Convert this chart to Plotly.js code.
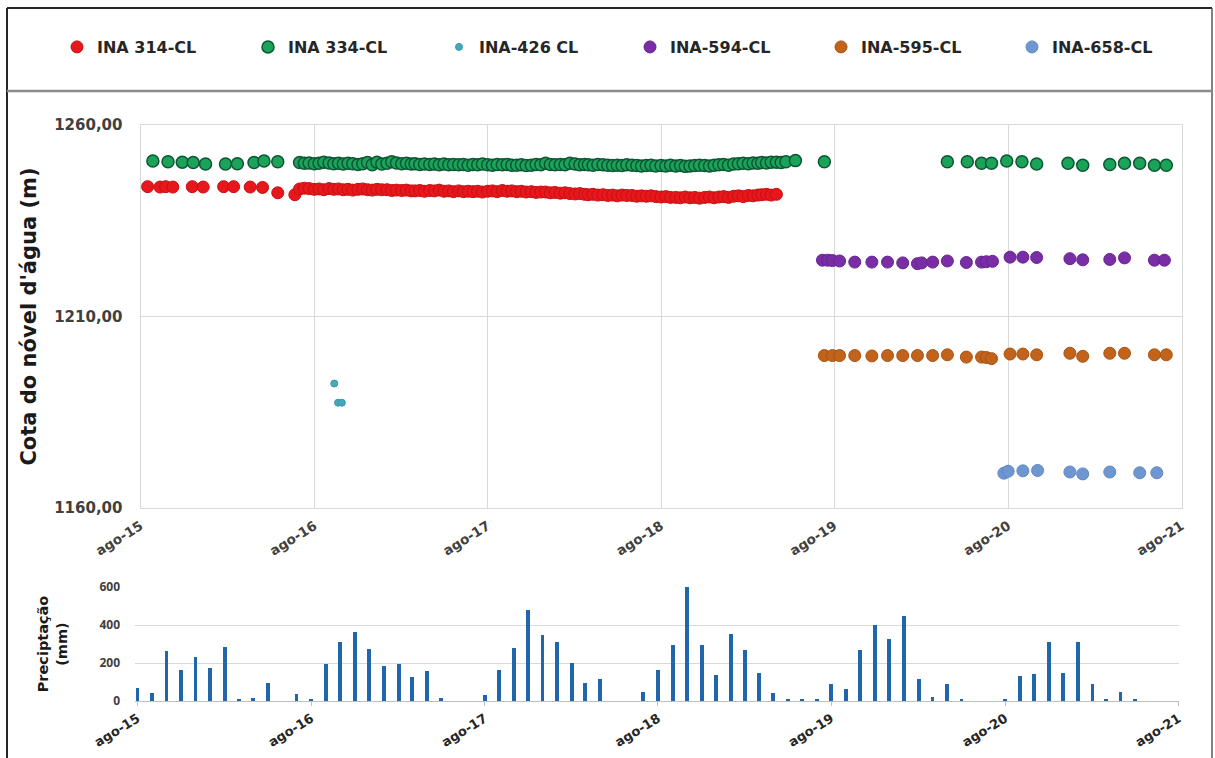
<!DOCTYPE html>
<html><head><meta charset="utf-8">
<script src="https://cdn.plot.ly/plotly-3.0.1.min.js"></script>
<style>html,body{margin:0;padding:0;background:#fff}#chart{width:1215px;height:758px}</style>
</head><body><div id="chart"></div>
<script>
// ---------- data ----------
const yearTicks = ['2015-08-01','2016-08-01','2017-08-01','2018-08-01','2019-08-01','2020-08-01','2021-08-01'];
const yearLabels = ['ago-15','ago-16','ago-17','ago-18','ago-19','ago-20','ago-21'];
const levelTicks = [1160, 1210, 1260];
const levelTickLabels = ['1160,00', '1210,00', '1260,00'];
const precipTicks = [0, 200, 400, 600];

const ina314Dates = [
'2015-08-16','2015-09-11','2015-09-23','2015-10-08','2015-11-18','2015-12-11','2016-01-23','2016-02-13','2016-03-19','2016-04-14','2016-05-16',
'2016-06-21',
'2016-07-01','2016-07-11','2016-07-21','2016-08-01','2016-08-11','2016-08-21','2016-09-01','2016-09-11','2016-09-21','2016-10-01','2016-10-11','2016-10-21','2016-11-01','2016-11-11','2016-11-21','2016-12-01','2016-12-11','2016-12-21',
'2017-01-01','2017-01-11','2017-01-21','2017-02-01','2017-02-11','2017-02-21','2017-03-01','2017-03-11','2017-03-21','2017-04-01','2017-04-11','2017-04-21','2017-05-01','2017-05-11','2017-05-21','2017-06-01','2017-06-11','2017-06-21','2017-07-01','2017-07-11','2017-07-21','2017-08-01','2017-08-11','2017-08-21','2017-09-01','2017-09-11','2017-09-21','2017-10-01','2017-10-11','2017-10-21','2017-11-01','2017-11-11','2017-11-21','2017-12-01','2017-12-11','2017-12-21',
'2018-01-01','2018-01-11','2018-01-21','2018-02-01','2018-02-11','2018-02-21','2018-03-01','2018-03-11','2018-03-21','2018-04-01','2018-04-11','2018-04-21','2018-05-01','2018-05-11','2018-05-21','2018-06-01','2018-06-11','2018-06-21','2018-07-01','2018-07-11','2018-07-21','2018-08-01','2018-08-11','2018-08-21','2018-09-01','2018-09-11','2018-09-21','2018-10-01','2018-10-11','2018-10-21','2018-11-01','2018-11-11','2018-11-21','2018-12-01','2018-12-11','2018-12-21',
'2019-01-01','2019-01-11','2019-01-21','2019-02-01','2019-02-11','2019-02-21','2019-03-01','2019-03-11','2019-03-21','2019-04-01'
];
const ina314Values = [
1243.9,1243.8,1243.9,1243.8,1243.9,1243.8,1243.9,1243.9,1243.8,1243.7,1242.3,
1241.8,
1243.3,1243.5,1243.4, 1243.2,1243.3,1243.1, 1243.4,1243.2,1243.3, 1243.1,1243.2,1243.0, 1243.2,1243.3,1243.1, 1243.0,1243.2,1243.1,
1243.1,1242.9,1243.0, 1242.9,1243.0,1242.8, 1242.8,1242.9,1242.7, 1242.9,1242.8,1243.0, 1242.7,1242.8,1242.6, 1242.8,1242.6,1242.7, 1242.6,1242.7,1242.5, 1242.7,1242.8,1242.6, 1242.9,1242.7,1242.8, 1242.6,1242.7,1242.5, 1242.6,1242.4,1242.5, 1242.5,1242.3,1242.4,
1242.2,1242.3,1242.1, 1242.0,1242.1,1241.9, 1241.8,1241.9,1241.7, 1241.8,1241.6,1241.7, 1241.5,1241.7,1241.6, 1241.6,1241.4,1241.5, 1241.4,1241.5,1241.3, 1241.2,1241.3,1241.1, 1241.1,1241.0,1241.2, 1241.0,1241.1,1240.9, 1241.1,1241.2,1241.0, 1241.2,1241.3,1241.1,
1241.4,1241.5,1241.3, 1241.6,1241.5,1241.7, 1241.8,1241.9,1241.7, 1241.9
];

const ina334Dates = [
'2015-08-27','2015-09-28','2015-10-28','2015-11-20','2015-12-16','2016-01-27','2016-02-21','2016-03-27','2016-04-17','2016-05-16',
'2016-07-01','2016-07-11','2016-07-21','2016-08-01','2016-08-11','2016-08-21','2016-09-01','2016-09-11','2016-09-21','2016-10-01','2016-10-11','2016-10-21','2016-11-01','2016-11-11','2016-11-21','2016-12-01','2016-12-11','2016-12-21',
'2017-01-01','2017-01-11','2017-01-21','2017-02-01','2017-02-11','2017-02-21','2017-03-01','2017-03-11','2017-03-21','2017-04-01','2017-04-11','2017-04-21','2017-05-01','2017-05-11','2017-05-21','2017-06-01','2017-06-11','2017-06-21','2017-07-01','2017-07-11','2017-07-21','2017-08-01','2017-08-11','2017-08-21','2017-09-01','2017-09-11','2017-09-21','2017-10-01','2017-10-11','2017-10-21','2017-11-01','2017-11-11','2017-11-21','2017-12-01','2017-12-11','2017-12-21',
'2018-01-01','2018-01-11','2018-01-21','2018-02-01','2018-02-11','2018-02-21','2018-03-01','2018-03-11','2018-03-21','2018-04-01','2018-04-11','2018-04-21','2018-05-01','2018-05-11','2018-05-21','2018-06-01','2018-06-11','2018-06-21','2018-07-01','2018-07-11','2018-07-21','2018-08-01','2018-08-11','2018-08-21','2018-09-01','2018-09-11','2018-09-21','2018-10-01','2018-10-11','2018-10-21','2018-11-01','2018-11-11','2018-11-21','2018-12-01','2018-12-11','2018-12-21',
'2019-01-01','2019-01-11','2019-01-21','2019-02-01','2019-02-11','2019-02-21','2019-03-01','2019-03-11','2019-03-21','2019-04-01','2019-04-11','2019-04-21','2019-05-11',
'2019-07-11','2020-03-26','2020-05-07','2020-06-06','2020-06-27','2020-07-29','2020-08-30','2020-09-30','2020-12-05','2021-01-05','2021-03-03','2021-04-03','2021-05-05','2021-06-05','2021-06-30'
];
const ina334Values = [
1250.6,1250.4,1250.3,1250.2,1249.8,1249.8,1249.9,1250.2,1250.6,1250.4,
1250.2,1250.0,1250.1, 1249.9,1250.0,1250.3, 1250.1,1249.9,1250.0, 1249.8,1250.0,1249.9, 1249.7,1249.9,1250.2, 1249.6,1250.3,1249.8,
1250.0,1250.4,1250.1, 1249.9,1250.0,1249.8, 1249.9,1249.7,1249.8, 1249.7,1249.8,1249.6, 1249.8,1249.6,1249.7, 1249.6,1249.7,1249.5, 1249.7,1249.6,1249.8, 1249.6,1249.5,1249.7, 1249.6,1249.7,1249.5, 1249.5,1249.6,1249.4, 1249.5,1249.7,1249.6, 1250.0,1249.7,1249.6,
1249.7,1249.6,1250.0, 1249.8,1249.6,1249.7, 1249.6,1249.5,1249.7, 1249.6,1249.5,1249.4, 1249.5,1249.4,1249.6, 1249.5,1249.4,1249.3, 1249.4,1249.5,1249.3, 1249.4,1249.3,1249.5, 1249.3,1249.4,1249.2, 1249.3,1249.4,1249.5, 1249.4,1249.3,1249.5, 1249.6,1249.7,1249.5,
1249.8,1249.9,1250.0, 1249.9,1250.1,1250.0, 1250.2,1250.1,1250.3, 1250.3,1250.2,1250.4, 1250.7,
1250.4,1250.4,1250.4,1250.0,1250.0,1250.6,1250.4,1249.8,1250.0,1249.5,1249.7,1250.0,1250.0,1249.5,1249.5
];

const ina426Dates = ['2016-09-12','2016-09-20','2016-09-28'];
const ina426Values = [1192.5, 1187.5, 1187.5];

const ina594Dates = ['2019-07-07','2019-07-18','2019-07-28','2019-08-12','2019-09-13','2019-10-19','2019-11-21','2019-12-23','2020-01-23','2020-02-01','2020-02-24','2020-03-26','2020-05-05','2020-06-06','2020-06-16','2020-06-29','2020-08-05','2020-09-01','2020-09-30','2020-12-09','2021-01-05','2021-03-03','2021-04-03','2021-06-05','2021-06-26'];
const ina594Values = [1224.7,1224.7,1224.6,1224.5,1224.2,1224.2,1224.2,1224.0,1223.8,1224.0,1224.2,1224.5,1224.1,1224.2,1224.3,1224.4,1225.5,1225.5,1225.4,1225.1,1224.8,1224.9,1225.3,1224.7,1224.7];

const ina595Dates = ['2019-07-11','2019-07-28','2019-08-12','2019-09-13','2019-10-19','2019-11-21','2019-12-23','2020-01-23','2020-02-24','2020-03-26','2020-05-05','2020-06-06','2020-06-16','2020-06-27','2020-08-05','2020-09-01','2020-09-30','2020-12-09','2021-01-05','2021-03-03','2021-04-03','2021-06-05','2021-06-30'];
const ina595Values = [1199.8,1199.8,1199.8,1199.8,1199.7,1199.8,1199.8,1199.8,1199.8,1200.0,1199.4,1199.4,1199.3,1199.0,1200.2,1200.2,1200.0,1200.4,1199.6,1200.4,1200.4,1200.0,1200.0];

const ina658Dates = ['2020-07-23','2020-08-01','2020-09-01','2020-10-02','2020-12-09','2021-01-05','2021-03-03','2021-05-05','2021-06-10'];
const ina658Values = [1169.1,1169.6,1169.7,1169.8,1169.4,1168.9,1169.4,1169.2,1169.2];

const precipMonths = [
'2015-08-01','2015-09-01','2015-10-01','2015-11-01','2015-12-01',
'2016-01-01','2016-02-01','2016-03-01','2016-04-01','2016-05-01','2016-06-01','2016-07-01','2016-08-01','2016-09-01','2016-10-01','2016-11-01','2016-12-01',
'2017-01-01','2017-02-01','2017-03-01','2017-04-01','2017-05-01','2017-06-01','2017-07-01','2017-08-01','2017-09-01','2017-10-01','2017-11-01','2017-12-01',
'2018-01-01','2018-02-01','2018-03-01','2018-04-01','2018-05-01','2018-06-01','2018-07-01','2018-08-01','2018-09-01','2018-10-01','2018-11-01','2018-12-01',
'2019-01-01','2019-02-01','2019-03-01','2019-04-01','2019-05-01','2019-06-01','2019-07-01','2019-08-01','2019-09-01','2019-10-01','2019-11-01','2019-12-01',
'2020-01-01','2020-02-01','2020-03-01','2020-04-01','2020-05-01','2020-06-01','2020-07-01','2020-08-01','2020-09-01','2020-10-01','2020-11-01','2020-12-01',
'2021-01-01','2021-02-01','2021-03-01','2021-04-01','2021-05-01'
];
const precipValues = [
67, 44, 264, 164, 234,
176, 283, 12, 15, 93, 0, 37, 12, 194, 308, 361, 273,
183, 194, 125, 158, 15, 0, 0, 30, 164, 278, 477, 345,
308, 202, 93, 114, 0, 0, 49, 164, 296, 600, 296, 137,
354, 266, 150, 44, 10, 10, 10, 90, 65, 266, 398, 327,
449, 114, 23, 90, 10, 0, 0, 10, 132, 143, 310, 150,
310, 90, 10, 49, 10
];

// ---------- figure ----------
const W = 1215, H = 758;
const px = v => v / W;
const py = v => 1 - v / H;
const FONT = 'DejaVu Sans, Open Sans, sans-serif';

function series(name, x, y, fill, line, size, lw) {
  return {type: 'scatter', mode: 'markers', name: name, x: x, y: y, xaxis: 'x', yaxis: 'y',
          marker: {color: fill, size: size, line: {color: line, width: lw}}, hoverinfo: 'x+y+name'};
}

const traces = [
  series('INA 314-CL', ina314Dates, ina314Values, '#E8171C', '#C40F12', 12, 1),
  series('INA 334-CL', ina334Dates, ina334Values, '#1CA35A', '#0C5634', 12, 1.5),
  series('INA-426 CL', ina426Dates, ina426Values, '#45A9B9', '#3A98A8', 7, 1),
  series('INA-594-CL', ina594Dates, ina594Values, '#7A2EA6', '#6A2292', 12, 1),
  series('INA-595-CL', ina595Dates, ina595Values, '#C2631B', '#A9530F', 12, 1),
  series('INA-658-CL', ina658Dates, ina658Values, '#6E97D2', '#5E87C2', 12, 1),
  {type: 'bar', name: 'Precipitação', x: precipMonths, y: precipValues, xaxis: 'x2', yaxis: 'y2',
   marker: {color: '#2166AC'}, width: 8 * 86400000, showlegend: false}
];

const layout = {
  width: W, height: H, margin: {l: 0, r: 0, t: 0, b: 0},
  paper_bgcolor: '#ffffff', plot_bgcolor: '#ffffff',
  font: {family: FONT, color: '#404040'},
  showlegend: true,
  legend: {orientation: 'h', x: px(57), xanchor: 'left', y: py(47), yanchor: 'middle',
           font: {family: FONT, size: 16, weight: 'bold', color: '#262626'},
           entrywidth: 146, entrywidthmode: 'pixels', bgcolor: 'rgba(0,0,0,0)'},
  bargap: 0,
  xaxis: {type: 'date', domain: [px(140.5), px(1181.5)], range: ['2015-08-01', '2021-08-01'], anchor: 'y',
          tickmode: 'array', tickvals: yearTicks, ticktext: yearLabels, tickangle: -32,
          tickfont: {family: FONT, size: 13.5, weight: 'bold', color: '#404040'},
          showgrid: true, gridcolor: '#D9D9D9', showline: true, mirror: true, linecolor: '#D9D9D9',
          zeroline: false, ticks: '', ticklabelstandoff: 4},
  yaxis: {domain: [py(508), py(125)], range: [1160, 1260], anchor: 'x',
          tickmode: 'array', tickvals: levelTicks, ticktext: levelTickLabels,
          tickfont: {family: FONT, size: 15, weight: 'bold', color: '#404040'},
          showgrid: true, gridcolor: '#D9D9D9', showline: true, mirror: true, linecolor: '#D9D9D9',
          zeroline: false, ticks: '', ticklabelstandoff: 14,
          title: {text: "Cota do nóvel d'água (m)", font: {family: FONT, size: 21, weight: 'bold', color: '#1a1a1a'}, standoff: 11}},
  xaxis2: {type: 'date', domain: [px(135.1), px(1178.5)], range: ['2015-07-27', '2021-08-01'], anchor: 'y2',
           tickmode: 'array', tickvals: yearTicks, ticktext: yearLabels, tickangle: -32,
           tickfont: {family: FONT, size: 13, weight: 'bold', color: '#262626'},
           showgrid: false, showline: true, linecolor: '#BFBFBF', zeroline: false,
           ticks: 'outside', ticklen: 4, tickcolor: '#BFBFBF', ticklabelstandoff: 0},
  yaxis2: {domain: [py(701), py(587)], range: [0, 600], anchor: 'x2',
           tickmode: 'array', tickvals: precipTicks, ticktext: precipTicks.map(String),
           tickfont: {family: 'Open Sans, sans-serif', size: 12, weight: 'bold', color: '#404040'},
           showgrid: true, gridcolor: '#D9D9D9', showline: false, zeroline: false, ticks: '', ticklabelstandoff: 14,
           title: {text: 'Preciptação<br>(mm)', font: {family: FONT, size: 14.5, weight: 'bold', color: '#1a1a1a'}, standoff: 28}},
  shapes: [
    {type: 'line', xref: 'paper', yref: 'paper', x0: px(7), x1: px(7), y0: 0, y1: py(8), line: {color: '#262626', width: 2}},
    {type: 'line', xref: 'paper', yref: 'paper', x0: px(7), x1: px(1212), y0: py(8), y1: py(8), line: {color: '#262626', width: 2}},
    {type: 'line', xref: 'paper', yref: 'paper', x0: px(1212), x1: px(1212), y0: 0, y1: py(8), line: {color: '#595959', width: 1.5}},
    {type: 'line', xref: 'paper', yref: 'paper', x0: px(7), x1: px(1212), y0: py(91), y1: py(91), line: {color: '#8C8C8C', width: 2.5}}
  ]
};

Plotly.newPlot('chart', traces, layout, {displayModeBar: false, staticPlot: true});
</script>
</body></html>
